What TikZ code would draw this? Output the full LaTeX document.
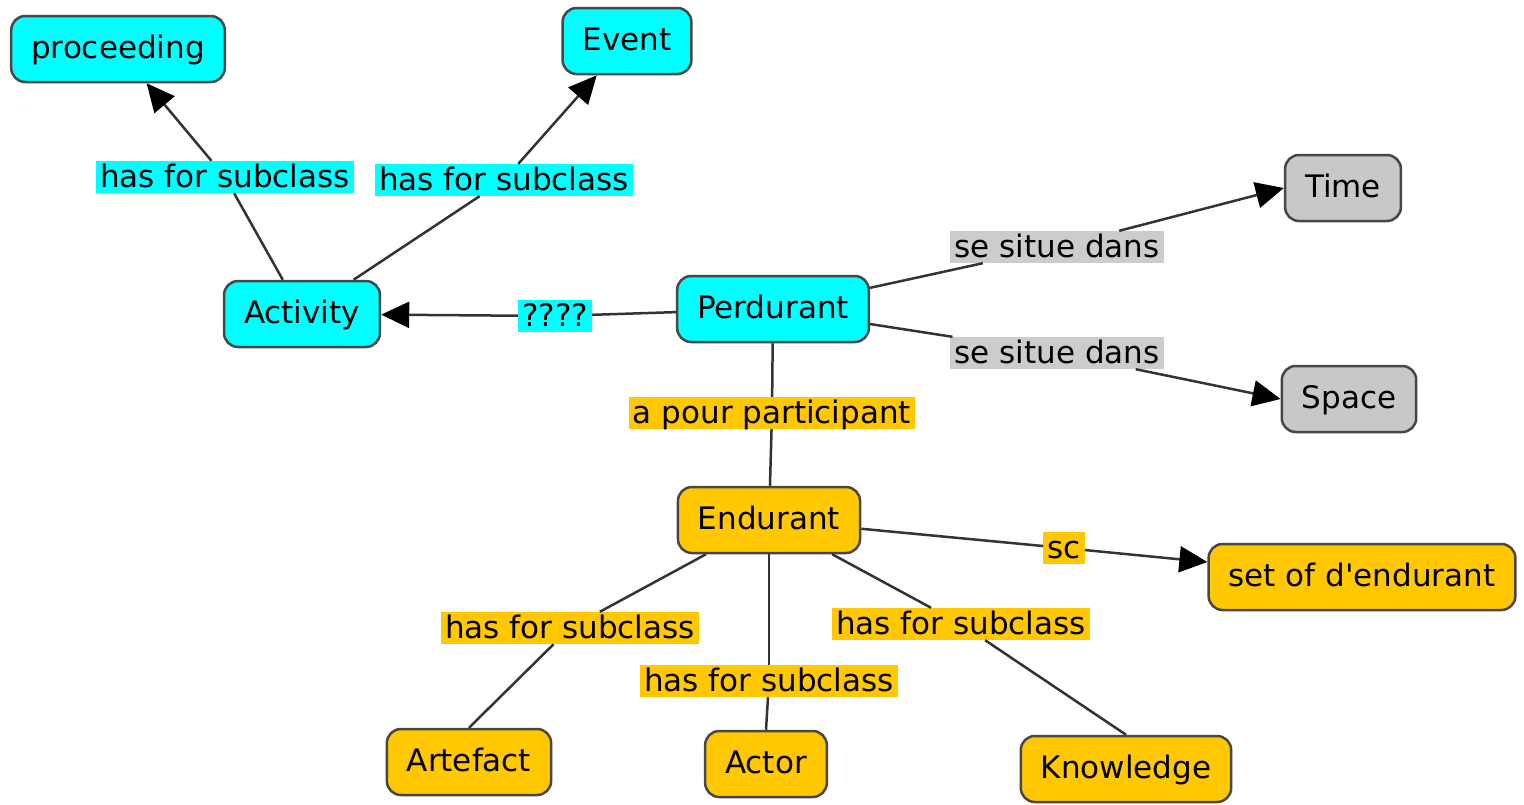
\documentclass[tikz,border=0pt]{standalone}
\usepackage{fontspec}
\setmainfont{DejaVu Sans}[Ligatures=TeXOff]
\usetikzlibrary{arrows.meta}

\definecolor{conceptcyan}{HTML}{00FFFF}
\definecolor{conceptgold}{HTML}{FFC800}
\definecolor{conceptgray}{HTML}{C8C8C8}
\definecolor{linkgray}{HTML}{CCCCCC}
\definecolor{edgeline}{HTML}{333333}

\tikzset{
  x=1pt, y=-1pt,
  every node/.style={font=\fontsize{31}{34}\selectfont},
  concept/.style={draw=black!72, line width=2.5pt, rounded corners=14pt,
    inner xsep=20pt, inner ysep=0pt, minimum height=66pt,
    text height=24pt, text depth=6pt},
  cyanbox/.style={concept, fill=conceptcyan},
  goldbox/.style={concept, fill=conceptgold},
  graybox/.style={concept, fill=conceptgray},
  linklabel/.style={inner xsep=4pt, inner ysep=2pt, text height=24pt, text depth=4pt},
  cyanlink/.style={linklabel, fill=conceptcyan},
  goldlink/.style={linklabel, fill=conceptgold},
  graylink/.style={linklabel, fill=linkgray},
  conn/.style={draw=edgeline, line width=2.5pt},
  arr/.style={conn, -{Triangle[length=28pt,width=26pt,color=black]}},
}

\begin{document}
\begin{tikzpicture}
\useasboundingbox (0,0) rectangle (1524,804);

% concepts
\node[cyanbox] (proc) at (118,49) {proceeding};
\node[cyanbox] (event) at (627,41) {Event};
\node[cyanbox] (act) at (302,314) {Activity};
\node[cyanbox] (perd) at (773,309) {Perdurant};
\node[graybox] (time) at (1343,188) {Time};
\node[graybox] (space) at (1349,399) {Space};
\node[goldbox] (endu) at (769,520) {Endurant};
\node[goldbox] (setend) at (1362,577) {set of d'endurant};
\node[goldbox] (art) at (469,762) {Artefact};
\node[goldbox] (actor) at (766,764) {Actor};
\node[goldbox] (know) at (1126,769) {Knowledge};

% linking phrases
\node[cyanlink] (l1) at (225,177) {has for subclass};
\node[cyanlink] (l2) at (504,180) {has for subclass};
\node[cyanlink] (l3) at (555,316) {????};
\node[graylink] (l4) at (1057,247) {se situe dans};
\node[graylink] (l5) at (1057,353) {se situe dans};
\node[goldlink] (l6) at (772,413) {a pour participant};
\node[goldlink] (l7) at (1064,548) {sc};
\node[goldlink] (l8) at (570,628) {has for subclass};
\node[goldlink] (l9) at (769,681) {has for subclass};
\node[goldlink] (l10) at (961,624) {has for subclass};

% connections
\draw[conn] (act) -- (l1);
\draw[arr] (l1) -- (proc);
\draw[conn] (act) -- (l2);
\draw[arr] (l2) -- (event);
\draw[conn] (perd) -- (l3);
\draw[arr] (l3) -- (act);
\draw[conn] (perd) -- (l4);
\draw[arr] (l4) -- (time.west);
\draw[conn] (perd) -- (l5);
\draw[arr] (l5) -- (space.west);
\draw[conn] (perd) -- (l6);
\draw[conn] (l6) -- (endu);
\draw[conn] (endu) -- (l7);
\draw[arr] (l7) -- (setend);
\draw[conn] (endu) -- (l8);
\draw[conn] (l8) -- (art.north);
\draw[conn] (endu) -- (l9);
\draw[conn] (l9) -- (actor.north);
\draw[conn] (endu) -- (l10);
\draw[conn] (l10) -- (know.north);
\end{tikzpicture}
\end{document}
